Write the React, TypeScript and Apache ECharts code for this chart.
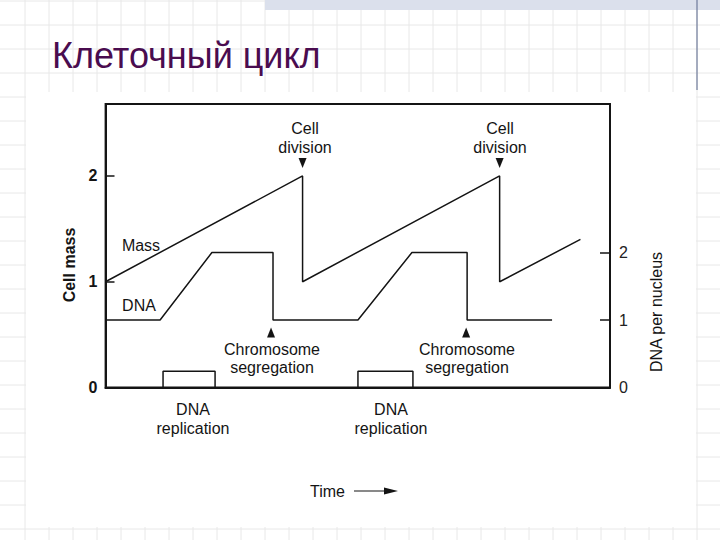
import React, { useEffect, useRef } from "react";
import * as echarts from "echarts";

// Time in cell-cycle units (cell division at t = 1 and t = 2)
const massPoints: [number, number][] = [
  [0, 1], [1, 2], [1, 1], [2, 2], [2, 1], [2.41, 1.4],
];
const dnaPoints: [number, number][] = [
  [0, 1], [0.277, 1], [0.54, 2], [0.85, 2], [0.85, 1], [1.281, 1],
  [1.555, 2], [1.835, 2], [1.835, 1], [2.266, 1],
];
const replicationStart = [0.292, 1.281];
const replicationEnd = [0.556, 1.56];
const replicationHeight = 0.24;
const divisionTimes = [1, 2];
const segregationTimes = [0.84, 1.83];
const leftTicks = [0, 1, 2];
const rightTicks = [0, 1, 2];

const FONT = "'Liberation Sans', Arial, Helvetica, sans-serif";
const INK = "#141414";

export default function App() {
  const ref = useRef<HTMLDivElement>(null);
  useEffect(() => {
    if (!ref.current) return;
    const chart = echarts.init(ref.current, undefined, { renderer: "svg" });

    const bg: any[] = [];
    for (let k = 0; k < 30; k++) {
      const x = 25 + 24 * k;
      bg.push({ type: "line", z: -10, silent: true, shape: { x1: x, y1: 0, x2: x, y2: 540 }, style: { stroke: "#e8e8e8", lineWidth: 1 } });
    }
    for (let k = 0; k < 23; k++) {
      const y = 1 + 24 * k;
      bg.push({ type: "line", z: -10, silent: true, shape: { x1: 0, y1: y, x2: 720, y2: y }, style: { stroke: "#e8e8e8", lineWidth: 1 } });
    }
    bg.push({ type: "rect", z: -9, silent: true, shape: { x: 26, y: 92, width: 670, height: 435 }, style: { fill: "#ffffff" } });
    bg.push({ type: "rect", z: -8, silent: true, shape: { x: 265, y: 0, width: 455, height: 10 }, style: { fill: "#dbe0ec" } });
    bg.push({ type: "line", z: -7, silent: true, shape: { x1: 697, y1: 0, x2: 697, y2: 90 }, style: { stroke: "#56648a", lineWidth: 1 } });

    const txt = (text: string, x: number, y: number, extra: any = {}) => ({
      type: "text",
      x,
      y,
      z: 10,
      ...(extra.rotation !== undefined ? { rotation: extra.rotation } : {}),
      style: {
        text,
        fill: extra.fill || INK,
        fontSize: extra.size || 16,
        fontWeight: extra.weight || "normal",
        fontFamily: FONT,
        align: "center",
        verticalAlign: "middle",
        lineHeight: extra.lh || 19,
      },
    });

    const labels: any[] = [
      { type: "text", x: 52, y: 55.5, z: 10, style: { text: "Клеточный цикл", fill: "#4a0c4f", fontSize: 36, fontFamily: FONT, align: "left", verticalAlign: "middle" } },
      txt("Cell\ndivision", 305, 137.5),
      txt("Cell\ndivision", 500, 137.5),
      txt("Chromosome\nsegregation", 272, 358.5, { lh: 18.5 }),
      txt("Chromosome\nsegregation", 467, 358.5, { lh: 18.5 }),
      txt("DNA\nreplication", 193, 418.5),
      txt("DNA\nreplication", 391, 418.5),
      txt("Mass", 141, 245),
      txt("DNA", 139, 305),
      txt("Time", 327.5, 491),
      txt("Cell mass", 69, 265, { rotation: Math.PI / 2, weight: "bold" }),
      txt("DNA per nucleus", 656, 312, { rotation: Math.PI / 2 }),
      { type: "line", z: 10, shape: { x1: 354, y1: 491, x2: 388, y2: 491 }, style: { stroke: INK, lineWidth: 1.2 } },
      { type: "polygon", z: 10, shape: { points: [[384, 487.5], [398, 491], [384, 494.5]] }, style: { fill: INK } },
    ];

    const boxSeries = replicationStart.map((s, i) => ({
      type: "line",
      yAxisIndex: 1,
      symbol: "none",
      silent: true,
      lineStyle: { color: INK, width: 1.5 },
      data: [
        [s, 0], [s, replicationHeight], [replicationEnd[i], replicationHeight], [replicationEnd[i], 0],
      ],
    }));

    chart.setOption({
      animation: false,
      backgroundColor: "#ffffff",
      graphic: { elements: [...bg, ...labels] },
      grid: {
        left: 105.5, right: 110, top: 104, bottom: 152.5,
        show: true, borderColor: INK, borderWidth: 1.8,
      },
      xAxis: {
        type: "value", min: 0, max: 2.56,
        axisLine: { show: true, lineStyle: { color: INK, width: 2 } },
        axisTick: { show: false }, axisLabel: { show: false }, splitLine: { show: false },
      },
      yAxis: [
        {
          type: "value", min: 0, max: 2.68, position: "left",
          axisLine: { show: true, lineStyle: { color: INK, width: 2 } },
          axisTick: { show: true, inside: true, length: 9, customValues: leftTicks, lineStyle: { color: INK, width: 1.5 } },
          axisLabel: { customValues: leftTicks, color: INK, fontSize: 16, fontWeight: "bold", fontFamily: FONT, margin: 8 },
          splitLine: { show: false },
        },
        {
          type: "value", min: 0, max: 4.2, position: "right",
          axisLine: { show: true, lineStyle: { color: INK, width: 1.8 } },
          axisTick: { show: true, inside: true, length: 10, customValues: rightTicks, lineStyle: { color: INK, width: 1.5 } },
          axisLabel: { customValues: rightTicks, color: "#222", fontSize: 16, fontFamily: FONT, margin: 9 },
          splitLine: { show: false },
        },
      ],
      series: [
        {
          name: "Mass", type: "line", yAxisIndex: 0, symbol: "none",
          lineStyle: { color: INK, width: 1.5 },
          data: massPoints,
          markPoint: {
            symbol: "triangle", symbolSize: [8, 10], symbolRotate: 180,
            itemStyle: { color: INK }, label: { show: false },
            data: divisionTimes.map((t) => ({ coord: [t, 2.123] })),
          },
        },
        {
          name: "DNA", type: "line", yAxisIndex: 1, symbol: "none",
          lineStyle: { color: INK, width: 1.5 },
          data: dnaPoints,
          markPoint: {
            symbol: "triangle", symbolSize: [8, 10],
            itemStyle: { color: INK }, label: { show: false },
            data: segregationTimes.map((t) => ({ coord: [t, 0.815] })),
          },
        },
        ...boxSeries,
      ],
    });
    return () => chart.dispose();
  }, []);
  return <div ref={ref} style={{ position: "fixed", left: 0, top: 0, width: 720, height: 540 }} />;
}
